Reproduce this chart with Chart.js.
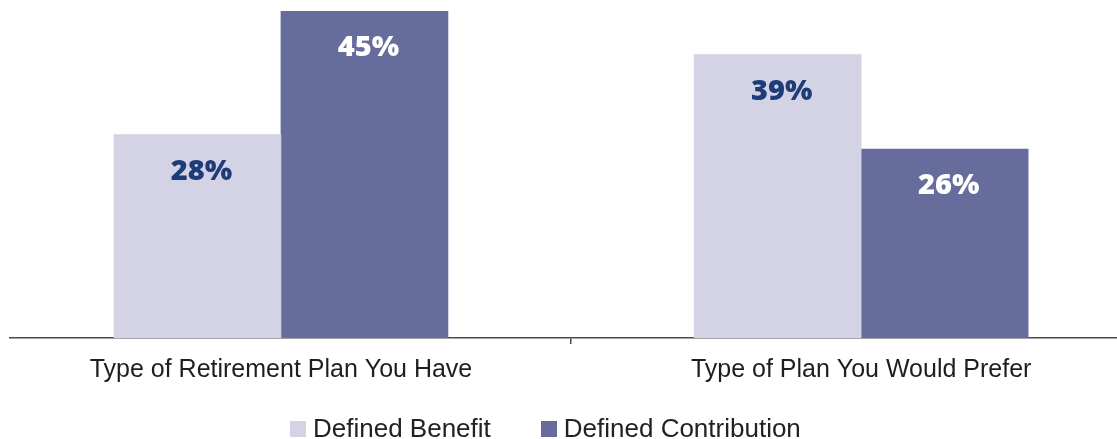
<!DOCTYPE html>
<html>
<head>
<meta charset="utf-8">
<script src="https://cdn.jsdelivr.net/npm/chart.js@4/dist/chart.umd.min.js"></script>
<style>
  html, body { margin: 0; padding: 0; background: #ffffff; overflow: hidden; }
  #wrap { position: relative; width: 1117px; height: 439px; }
  #chart { display: block; }
  #legend {
    position: absolute; top: 416px; left: 290px;
    display: flex; align-items: center;
    font-family: "Liberation Sans", Arial, sans-serif; font-size: 26px; line-height: 25px;
    color: #222222;
  }
  .item { display: flex; align-items: center; margin-right: 50px; white-space: nowrap; }
  .item:last-child { margin-right: 0; }
  .box { width: 16px; height: 16px; margin-right: 7px; flex: none; }
</style>
</head>
<body>
<div id="wrap">
  <canvas id="chart" width="1117" height="439"></canvas>
  <div id="legend"></div>
</div>
<script>
// Survey results: share of respondents by retirement plan type
const categories = ['Type of Retirement Plan You Have', 'Type of Plan You Would Prefer'];
const seriesNames = ['Defined Benefit', 'Defined Contribution'];
const definedBenefit = [28, 39];
const definedContribution = [45, 26];

// Category positions on the numeric x axis, plus the divider tick between groups
const categoryPositions = [1, 2];
const dividerTicks = [1.5];

const COLORS = { benefit: '#d3d3e5', contribution: '#666d9c' };
const LABEL_COLORS = ['#1d3c78', '#ffffff'];
const AXIS_COLOR = '#4a4a4a';

const toPoints = (values) => values.map((v, i) => ({ x: categoryPositions[i], y: v }));

// Draws "NN%" inside the top of each bar
const valueLabels = {
  id: 'valueLabels',
  afterDatasetsDraw(chart) {
    const ctx = chart.ctx;
    ctx.save();
    ctx.font = '800 29px "Open Sans", "DejaVu Sans", sans-serif';
    ctx.textAlign = 'center';
    ctx.textBaseline = 'middle';
    chart.data.datasets.forEach((ds, di) => {
      const meta = chart.getDatasetMeta(di);
      ctx.fillStyle = LABEL_COLORS[di];
      meta.data.forEach((bar, i) => {
        const text = ds.data[i].y + '%';
        ctx.fillText(text, bar.x + 4, bar.y + 37);
      });
    });
    ctx.restore();
  }
};

const chart = new Chart(document.getElementById('chart'), {
  type: 'bar',
  data: {
    datasets: [
      { label: seriesNames[0], data: toPoints(definedBenefit), backgroundColor: COLORS.benefit, borderWidth: 0 },
      { label: seriesNames[1], data: toPoints(definedContribution), backgroundColor: COLORS.contribution, borderWidth: 0 }
    ]
  },
  options: {
    responsive: false,
    animation: false,
    devicePixelRatio: 1,
    barThickness: 167,
    layout: { padding: { left: 10, right: 0, top: 11, bottom: 43 } },
    scales: {
      x: {
        type: 'linear',
        min: 0.533,
        max: 2.441,
        bounds: 'data',
        offset: false,
        afterBuildTicks: (scale) => {
          scale.ticks = [...categoryPositions, ...dividerTicks]
            .sort((a, b) => a - b)
            .map(v => ({ value: v }));
        },
        ticks: {
          autoSkip: false,
          minRotation: 0,
          maxRotation: 0,
          padding: 11,
          color: '#1e1e1e',
          font: { family: '"Liberation Sans", Arial, sans-serif', size: 25 },
          callback: (value) => {
            const idx = categoryPositions.indexOf(value);
            return idx >= 0 ? categories[idx] : '';
          }
        },
        grid: {
          offset: false,
          drawOnChartArea: false,
          drawTicks: true,
          tickLength: 6,
          lineWidth: 1.5,
          color: (ctx) => (ctx.tick && dividerTicks.includes(ctx.tick.value)) ? AXIS_COLOR : 'rgba(0,0,0,0)'
        },
        border: { display: true, color: AXIS_COLOR, width: 1.5 }
      },
      y: {
        display: false,
        min: 0,
        max: 45
      }
    },
    plugins: {
      legend: { display: false },
      tooltip: { enabled: false }
    }
  },
  plugins: [valueLabels]
});

// Legend built from the chart's datasets
const legendEl = document.getElementById('legend');
chart.data.datasets.forEach((ds) => {
  const item = document.createElement('div');
  item.className = 'item';
  const box = document.createElement('span');
  box.className = 'box';
  box.style.background = ds.backgroundColor;
  const text = document.createElement('span');
  text.textContent = ds.label;
  item.appendChild(box);
  item.appendChild(text);
  legendEl.appendChild(item);
});
</script>
</body>
</html>
